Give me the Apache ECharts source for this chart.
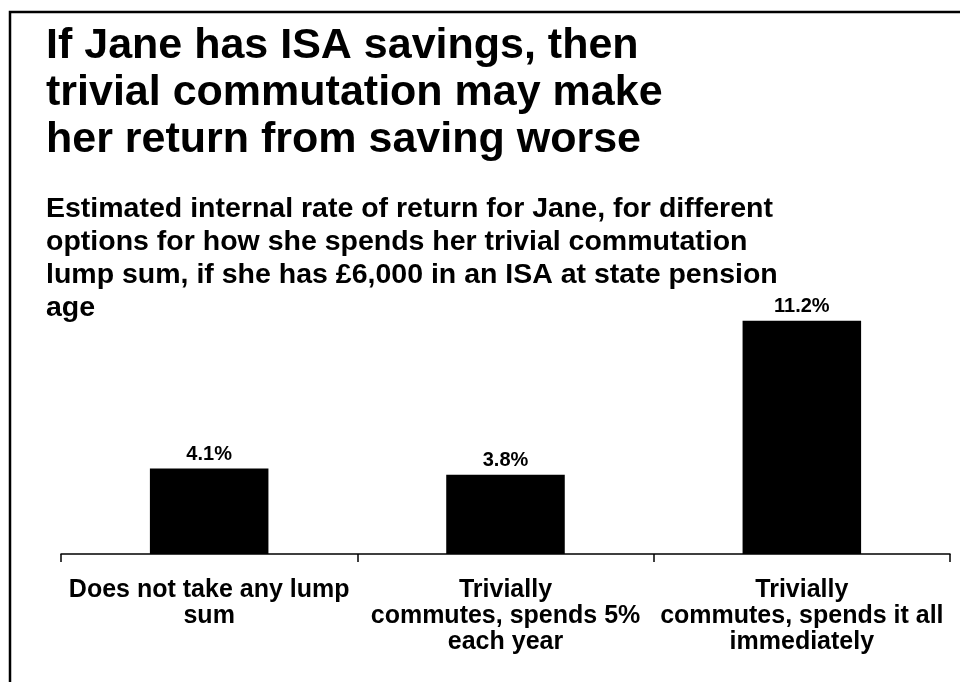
<!DOCTYPE html>
<html>
<head>
<meta charset="utf-8">
<script src="https://cdn.jsdelivr.net/npm/echarts@6/dist/echarts.min.js"></script>
<style>
  html, body { margin: 0; padding: 0; background: #fff; }
  #chart { width: 960px; height: 682px; }
</style>
</head>
<body>
<div id="chart"></div>
<script>
// Internal rate of return for each way of spending the lump sum (%)
const categories = [
  'Does not take any lump\nsum',
  'Trivially\ncommutes, spends 5%\neach year',
  'Trivially\ncommutes, spends it all\nimmediately'
];
const returnRates = [4.1, 3.8, 11.2];

const headline = 'If Jane has ISA savings, then\ntrivial commutation may make\nher return from saving worse';
const subheading = 'Estimated internal rate of return for Jane, for different\noptions for how she spends her trivial commutation\nlump sum, if she has \u00a36,000 in an ISA at state pension\nage';

const FONT = '"Liberation Sans", Arial, sans-serif';

const chart = echarts.init(document.getElementById('chart'), null, { renderer: 'canvas' });

chart.setOption({
  backgroundColor: '#ffffff',
  animation: false,
  textStyle: { fontFamily: FONT },
  title: [
    {
      text: headline,
      left: 46,
      top: 23,
      padding: 0,
      textStyle: { fontFamily: FONT, fontSize: 43, fontWeight: 'bold', color: '#000', lineHeight: 47 }
    },
    {
      text: subheading,
      left: 46,
      top: 193,
      padding: 0,
      textStyle: { fontFamily: FONT, fontSize: 28.5, fontWeight: 'bold', color: '#000', lineHeight: 33 }
    }
  ],
  graphic: [
    {
      type: 'rect',
      shape: { x: 10, y: 12, width: 1000, height: 1000 },
      style: { fill: null, stroke: '#000', lineWidth: 2.5 },
      silent: true
    }
  ],
  grid: { left: 61, right: 10, top: 304, bottom: 128 },
  xAxis: {
    type: 'category',
    data: categories,
    boundaryGap: true,
    axisLine: { lineStyle: { color: '#000', width: 1.5 } },
    axisTick: { show: true, length: 8, lineStyle: { color: '#000', width: 1.5 } },
    axisLabel: {
      color: '#000',
      fontFamily: FONT,
      fontSize: 25,
      fontWeight: 'bold',
      lineHeight: 26,
      margin: 23,
      interval: 0
    }
  },
  yAxis: {
    type: 'value',
    min: 0,
    max: 12,
    show: false,
    splitLine: { show: false }
  },
  series: [
    {
      type: 'bar',
      data: returnRates,
      barWidth: '40%',
      itemStyle: { color: '#000' },
      label: {
        show: true,
        position: 'top',
        distance: 4,
        color: '#000',
        fontFamily: FONT,
        fontSize: 20,
        fontWeight: 'bold',
        formatter: (p) => p.value.toFixed(1) + '%'
      }
    }
  ]
});
</script>
</body>
</html>
